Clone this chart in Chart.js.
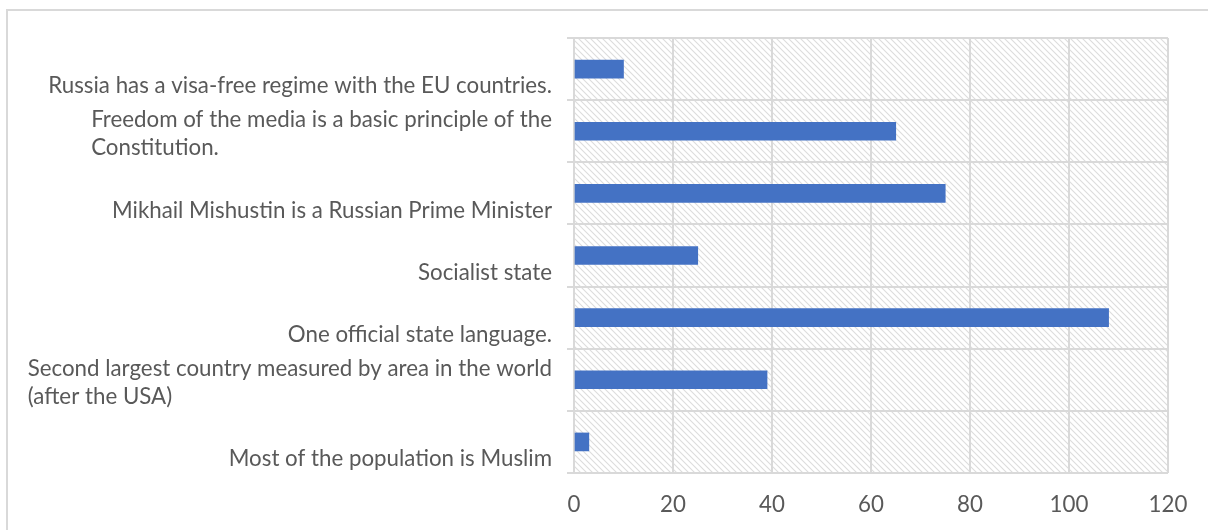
<!DOCTYPE html>
<html>
<head>
<meta charset="utf-8">
<script src="https://cdn.jsdelivr.net/npm/chart.js@4/dist/chart.umd.min.js"></script>
<style>
  html, body { margin: 0; padding: 0; background: #fff; overflow: hidden; }
  #wrap { width: 1208px; height: 530px; }
</style>
</head>
<body>
<div id="wrap"><canvas id="factsChart" width="1208" height="530"></canvas></div>
<script>
// Statements (top to bottom) and how many answered for each
const statements = [
    ['', 'Russia has a visa-free regime with the EU countries.'],
    ['Freedom of the media is a basic principle of the', 'Constitution.'],
    ['', 'Mikhail Mishustin is a Russian Prime Minister'],
    ['', 'Socialist state'],
    ['', 'One official state language.'],
    ['Second largest country measured by area in the world', '(after the USA)'],
    ['', 'Most of the population is Muslim']
];
const answers = [10, 65, 75, 25, 108, 39, 3];
const axisMin = 0;
const axisMax = 120;
const axisStep = 20;

const fontFamily = 'Lato, "Open Sans", sans-serif';
const fontSize = 22.3;
const lineGap = 28;
const textColor = '#595959';
const gridColor = '#d9d9d9';

// small tile of downward diagonal hatching for the plot area
function makeHatch() {
    const size = 6;
    const c = document.createElement('canvas');
    c.width = size;
    c.height = size;
    const g = c.getContext('2d');
    g.fillStyle = '#ffffff';
    g.fillRect(0, 0, size, size);
    g.strokeStyle = '#dcdcdc';
    g.lineWidth = 1.1;
    for (const off of [-size, 0, size]) {
        g.beginPath();
        g.moveTo(off - 1, -1);
        g.lineTo(off + size + 1, size + 1);
        g.stroke();
    }
    return c;
}

const backdrop = {
    id: 'backdrop',
    beforeDraw(chart) {
        const ctx = chart.ctx;
        const a = chart.chartArea;
        ctx.save();
        ctx.fillStyle = '#ffffff';
        ctx.fillRect(0, 0, chart.width, chart.height);
        // outer frame
        ctx.strokeStyle = '#d9d9d9';
        ctx.lineWidth = 2;
        ctx.strokeRect(7, 10, chart.width + 20, chart.height + 20);
        // hatched plot area
        ctx.fillStyle = ctx.createPattern(makeHatch(), 'repeat');
        ctx.fillRect(a.left, a.top, a.right - a.left, a.bottom - a.top);
        ctx.restore();
    }
};

// category labels: wrapped lines share a left edge, block is right-aligned to the axis
const categoryLabels = {
    id: 'categoryLabels',
    afterDraw(chart) {
        const ctx = chart.ctx;
        const scale = chart.scales.y;
        const right = scale.right - 7 - 15;
        ctx.save();
        ctx.font = fontSize + 'px ' + fontFamily;
        ctx.fillStyle = textColor;
        ctx.textAlign = 'left';
        ctx.textBaseline = 'middle';
        chart.data.labels.forEach((lines, i) => {
            const y = scale.getPixelForTick(i) + 3;
            const widest = Math.max(...lines.map(l => ctx.measureText(l).width));
            const left = right - widest;
            const first = y - (lines.length - 1) * lineGap / 2;
            lines.forEach((line, k) => {
                ctx.fillText(line, left, first + k * lineGap);
            });
        });
        ctx.restore();
    }
};

const ctx = document.getElementById('factsChart').getContext('2d');
const factsChart = new Chart(ctx, {
    type: 'bar',
    data: {
        labels: statements,
        datasets: [{
            label: 'Answers',
            data: answers,
            backgroundColor: '#4472c4',
            borderWidth: 0,
            barThickness: 18
        }]
    },
    options: {
        indexAxis: 'y',
        responsive: false,
        animation: false,
        layout: { padding: { top: 38, right: 40, bottom: 0, left: 0 } },
        plugins: {
            legend: { display: false },
            tooltip: { enabled: false }
        },
        scales: {
            x: {
                min: axisMin,
                max: axisMax,
                ticks: {
                    stepSize: axisStep,
                    color: textColor,
                    font: { family: fontFamily, size: fontSize },
                    padding: 18
                },
                grid: {
                    color: gridColor,
                    lineWidth: 2,
                    drawTicks: false
                },
                border: { display: false },
                afterFit(scale) { scale.height = 57; }
            },
            y: {
                ticks: { display: false },
                grid: {
                    color: gridColor,
                    lineWidth: 2,
                    offset: true,
                    tickLength: 7
                },
                border: { display: false },
                afterFit(scale) { scale.width = 574; }
            }
        }
    },
    plugins: [backdrop, categoryLabels]
});
</script>
</body>
</html>
